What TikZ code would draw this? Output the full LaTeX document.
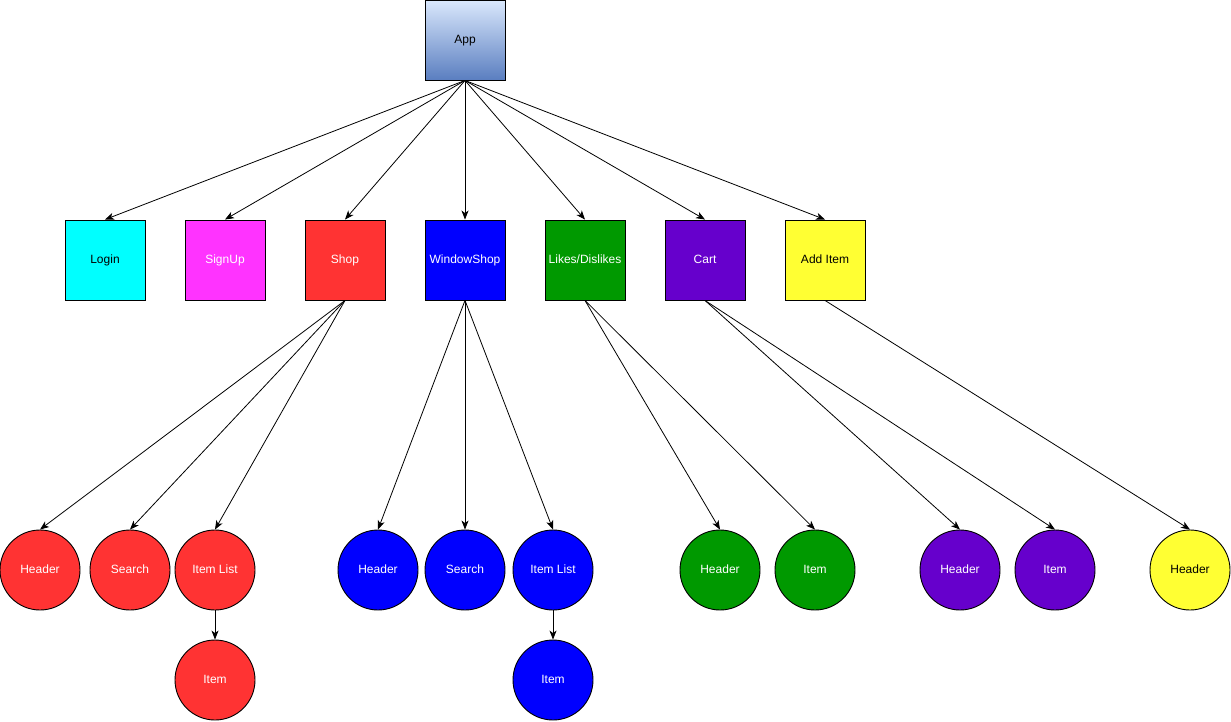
\documentclass[tikz,border=0pt]{standalone}
\usepackage{fontspec}
\setmainfont{Liberation Sans}
\usetikzlibrary{arrows.meta}

\definecolor{appTop}{HTML}{DAE8FC}
\definecolor{appBot}{HTML}{5A7EC0}
\definecolor{cCyan}{HTML}{00FFFF}
\definecolor{cPink}{HTML}{FF33FF}
\definecolor{cRed}{HTML}{FF3333}
\definecolor{cBlue}{HTML}{0000FF}
\definecolor{cGreen}{HTML}{009900}
\definecolor{cPurple}{HTML}{6600CC}
\definecolor{cYellow}{HTML}{FFFF33}

\tikzset{
  label text/.style={font=\fontsize{12}{14}\selectfont, text height=8.6pt, text depth=2.6pt},
  box/.style={draw=black, line width=0.9pt, minimum width=80pt, minimum height=80pt,
    inner sep=0pt, label text},
  comp/.style={draw=black, line width=0.9pt, circle, minimum size=80pt,
    inner sep=0pt, label text},
  light/.style={text=black},
  dark/.style={text=white},
  link/.style={draw=black, line width=0.8pt,
    -{Stealth[length=9pt,width=7pt,inset=2.5pt]}}
}

\begin{document}
\begin{tikzpicture}[x=1pt,y=-1pt]
  \useasboundingbox (0,0) rectangle (1231,721);

  % root
  \node[box, top color=appTop, bottom color=appBot, light] (app) at (465,40) {App};

  % pages
  \node[box, fill=cCyan, light]  (login)  at (105,260) {Login};
  \node[box, fill=cPink, dark]   (signup) at (225,260) {SignUp};
  \node[box, fill=cRed, dark]    (shop)   at (345,260) {Shop};
  \node[box, fill=cBlue, dark]   (wshop)  at (465,260) {WindowShop};
  \node[box, fill=cGreen, dark]  (likes)  at (585,260) {Likes/Dislikes};
  \node[box, fill=cPurple, dark] (cart)   at (705,260) {Cart};
  \node[box, fill=cYellow, light](additem)at (825,260) {Add Item};

  % shop components
  \node[comp, fill=cRed, dark] (sHeader) at (40,570)  {Header};
  \node[comp, fill=cRed, dark] (sSearch) at (130,570) {Search};
  \node[comp, fill=cRed, dark] (sList)   at (215,570) {Item List};
  \node[comp, fill=cRed, dark] (sItem)   at (215,680) {Item};

  % window shop components
  \node[comp, fill=cBlue, dark] (wHeader) at (378,570) {Header};
  \node[comp, fill=cBlue, dark] (wSearch) at (465,570) {Search};
  \node[comp, fill=cBlue, dark] (wList)   at (553,570) {Item List};
  \node[comp, fill=cBlue, dark] (wItem)   at (553,680) {Item};

  % likes components
  \node[comp, fill=cGreen, dark] (lHeader) at (720,570) {Header};
  \node[comp, fill=cGreen, dark] (lItem)   at (815,570) {Item};

  % cart components
  \node[comp, fill=cPurple, dark] (cHeader) at (960,570)  {Header};
  \node[comp, fill=cPurple, dark] (cItem)   at (1055,570) {Item};

  % add item components
  \node[comp, fill=cYellow, light] (aHeader) at (1190,570) {Header};

  % root to pages
  \foreach \p in {login,signup,shop,wshop,likes,cart,additem}
    \draw[link] (app.south) -- (\p.north);

  % pages to components
  \foreach \c in {sHeader,sSearch,sList}
    \draw[link] (shop.south) -- (\c.north);
  \foreach \c in {wHeader,wSearch,wList}
    \draw[link] (wshop.south) -- (\c.north);
  \foreach \c in {lHeader,lItem}
    \draw[link] (likes.south) -- (\c.north);
  \foreach \c in {cHeader,cItem}
    \draw[link] (cart.south) -- (\c.north);
  \draw[link] (additem.south) -- (aHeader.north);

  \draw[link] (sList.south) -- (sItem.north);
  \draw[link] (wList.south) -- (wItem.north);
\end{tikzpicture}
\end{document}
